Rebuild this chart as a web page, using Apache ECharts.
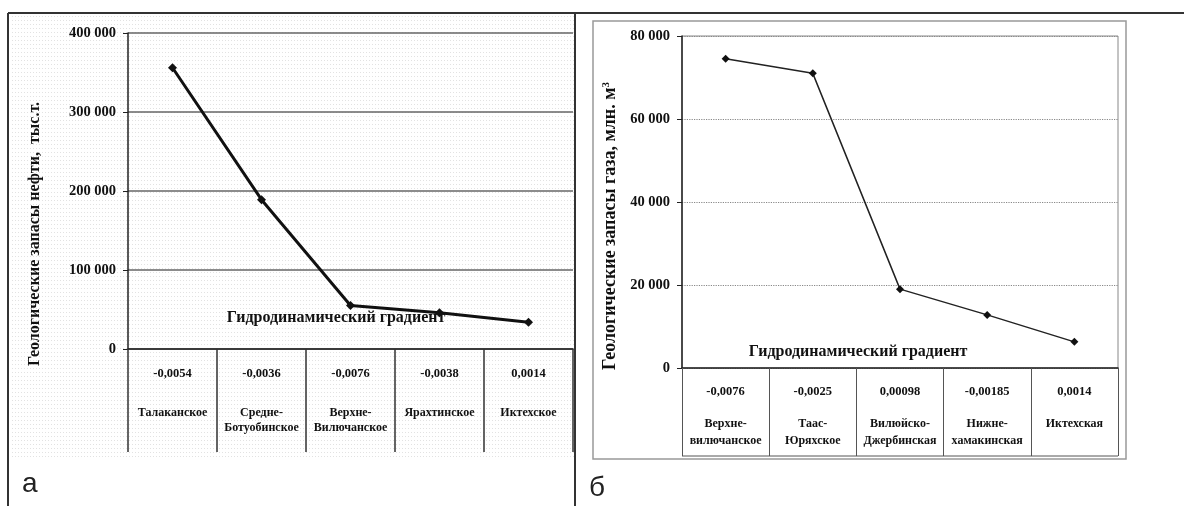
<!DOCTYPE html>
<html>
<head>
<meta charset="utf-8">
<script src="https://cdn.jsdelivr.net/npm/echarts@6/dist/echarts.min.js"></script>
<style>
  html, body { margin: 0; padding: 0; background: #fff; }
  #chart { width: 1184px; height: 506px; }
</style>
</head>
<body>
<div id="chart"></div>
<script>
// а — нефть
const oilFields = ['Талаканское', 'Средне-\nБотуобинское', 'Верхне-\nВилючанское', 'Ярахтинское', 'Иктехское']
const oilGradients = ['-0,0054', '-0,0036', '-0,0076', '-0,0038', '0,0014']
const oilReserves = [356000, 189000, 55000, 46000, 34000]
// б — газ
const gasFields = ['Верхне-\nвилючанское', 'Таас-\nЮряхское', 'Вилюйско-\nДжербинская', 'Нижне-\nхамакинская', 'Иктехская']
const gasGradients = ['-0,0076', '-0,0025', '0,00098', '-0,00185', '0,0014']
const gasReserves = [74500, 71000, 19000, 12800, 6300]

const serif = '"Liberation Serif", "Times New Roman", serif'

// точечный фон как на скане
function dotPattern() {
  const c = document.createElement('canvas')
  c.width = 3; c.height = 4
  const ctx = c.getContext('2d')
  ctx.fillStyle = '#ffffff'
  ctx.fillRect(0, 0, 3, 4)
  ctx.fillStyle = '#e2e2e2'
  ctx.fillRect(0, 0, 1, 1)
  return c
}

function thousands(v) {
  return String(v).replace(/\B(?=(\d{3})+(?!\d))/g, ' ')
}

function tableLabel(grads) {
  return function (value, idx) {
    const names = value.split('\n').map(function (s) { return '{n|' + s + '}' }).join('\n')
    return '{v|' + grads[idx] + '}\n{s| }\n' + names
  }
}

function tableRich(gap, nameLh) {
  return {
    v: { fontFamily: serif, fontWeight: 'bold', fontSize: 12.5, color: '#111', lineHeight: 18 },
    s: { fontSize: 4, lineHeight: gap },
    n: { fontFamily: serif, fontWeight: 'bold', fontSize: 12, color: '#111', lineHeight: nameLh }
  }
}

const chart = echarts.init(document.getElementById('chart'))
const option = {
  backgroundColor: '#fff',
  animation: false,
  graphic: [
    // фон левой панели
    { type: 'rect', z: -10, shape: { x: 10, y: 15, width: 564, height: 443 }, style: { fill: { image: dotPattern(), repeat: 'repeat' } } },
    // рамки панелей
    { type: 'line', z: 10, shape: { x1: 8, y1: 13, x2: 1184, y2: 13 }, style: { stroke: '#333', lineWidth: 2 } },
    { type: 'line', z: 10, shape: { x1: 8, y1: 13, x2: 8, y2: 506 }, style: { stroke: '#333', lineWidth: 2 } },
    { type: 'line', z: 10, shape: { x1: 575, y1: 13, x2: 575, y2: 506 }, style: { stroke: '#333', lineWidth: 2 } },
    // рамка правой диаграммы
    { type: 'rect', z: -10, shape: { x: 593, y: 21, width: 533, height: 438 }, style: { fill: '#fff', stroke: '#999', lineWidth: 1.5 } },
    { type: 'line', z: 10, shape: { x1: 682, y1: 456, x2: 1118, y2: 456 }, style: { stroke: '#555', lineWidth: 1 } },
    // подписи осей
    { type: 'text', x: 35, y: 234, rotation: Math.PI / 2, style: { text: 'Геологические запасы нефти,  тыс.т.', fontFamily: serif, fontWeight: 'bold', fontSize: 16, fill: '#111', align: 'center', verticalAlign: 'middle' } },
    { type: 'text', x: 610, y: 226, rotation: Math.PI / 2, style: { rich: { a: { fontFamily: serif, fontWeight: 'bold', fontSize: 18, fill: '#111' }, b: { fontFamily: serif, fontWeight: 'bold', fontSize: 11, fill: '#111', verticalAlign: 'top' } }, text: '{a|Геологические запасы газа, млн. м}{b|3}', align: 'center', verticalAlign: 'middle' } },
    { type: 'text', x: 336, y: 318, style: { text: 'Гидродинамический градиент', fontFamily: serif, fontWeight: 'bold', fontSize: 16, fill: '#111', align: 'center', verticalAlign: 'middle' } },
    { type: 'text', x: 858, y: 352, style: { text: 'Гидродинамический градиент', fontFamily: serif, fontWeight: 'bold', fontSize: 16, fill: '#111', align: 'center', verticalAlign: 'middle' } },
    // буквы панелей
    { type: 'text', x: 22, y: 484, style: { text: 'а', fontFamily: '"Liberation Sans Narrow", "Liberation Sans", sans-serif', fontSize: 28, fill: '#222', verticalAlign: 'middle' } },
    { type: 'text', x: 589, y: 488, style: { text: 'б', fontFamily: '"Liberation Sans Narrow", "Liberation Sans", sans-serif', fontSize: 28, fill: '#222', verticalAlign: 'middle' } }
  ],
  grid: [
    { left: 128, top: 33, width: 445, height: 316 },
    { left: 682, top: 36, width: 436, height: 332, show: true, borderColor: '#888', borderWidth: 1, backgroundColor: 'transparent' }
  ],
  xAxis: [
    {
      type: 'category', gridIndex: 0, data: oilFields,
      axisLine: { lineStyle: { color: '#222', width: 1.5 } },
      axisTick: { show: true, length: 103, lineStyle: { color: '#333', width: 1.5 } },
      axisLabel: { interval: 0, margin: 16, formatter: tableLabel(oilGradients), rich: tableRich(22, 15) }
    },
    {
      type: 'category', gridIndex: 1, data: gasFields,
      axisLine: { lineStyle: { color: '#222', width: 1.5 } },
      axisTick: { show: true, length: 88, lineStyle: { color: '#555', width: 1 } },
      axisLabel: { interval: 0, margin: 15, formatter: tableLabel(gasGradients), rich: tableRich(14, 17) }
    }
  ],
  yAxis: [
    {
      type: 'value', gridIndex: 0, min: 0, max: 400000, interval: 100000,
      axisLine: { show: true, lineStyle: { color: '#222', width: 1.5 } },
      axisTick: { show: true, length: 5, lineStyle: { color: '#222' } },
      axisLabel: { margin: 12, fontFamily: serif, fontWeight: 'bold', fontSize: 14.5, color: '#111', formatter: thousands },
      splitLine: { lineStyle: { color: '#666', width: 1.5 } }
    },
    {
      type: 'value', gridIndex: 1, min: 0, max: 80000, interval: 20000,
      axisLine: { show: true, lineStyle: { color: '#222', width: 1.5 } },
      axisTick: { show: true, length: 5, lineStyle: { color: '#222' } },
      axisLabel: { margin: 12, fontFamily: serif, fontWeight: 'bold', fontSize: 14.5, color: '#111', formatter: thousands },
      splitLine: { lineStyle: { color: '#888', width: 1.2, type: 'dotted' } }
    }
  ],
  series: [
    {
      type: 'line', xAxisIndex: 0, yAxisIndex: 0, data: oilReserves,
      symbol: 'diamond', symbolSize: 9,
      lineStyle: { color: '#111', width: 3 },
      itemStyle: { color: '#111' }
    },
    {
      type: 'line', xAxisIndex: 1, yAxisIndex: 1, data: gasReserves,
      symbol: 'diamond', symbolSize: 8,
      lineStyle: { color: '#222', width: 1.5 },
      itemStyle: { color: '#111' }
    }
  ]
}
chart.setOption(option)
</script>
</body>
</html>
